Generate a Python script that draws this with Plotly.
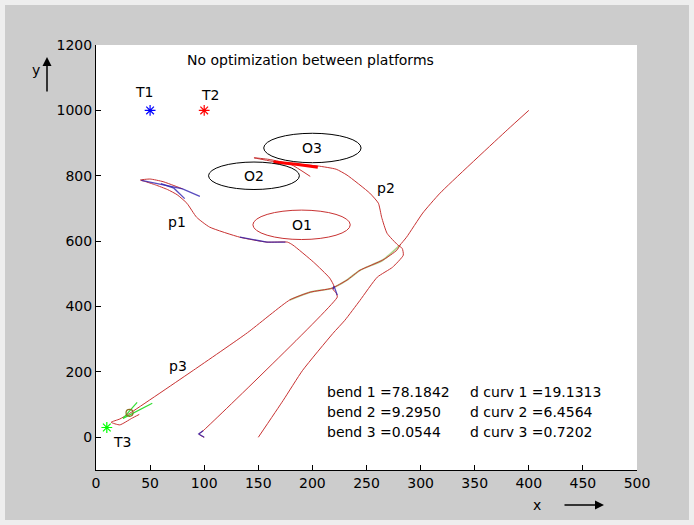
import plotly.graph_objects as go

# ---- data ----
targets_name = ["T1", "T2", "T3"]
targets_x = [50, 100, 10]
targets_y = [1000, 1000, 30]
targets_color = ["#0000ff", "#ff0000", "#00ff00"]
target_label_x = [44, 105, 24]
target_label_y = [1056, 1047, -15]

obst_name = ["O1", "O2", "O3"]
obst_cx = [190, 146, 200]
obst_cy = [650, 800, 885]
obst_r = [45, 42, 45]
obst_color = ["#c83232", "#000000", "#000000"]

# path 1
p1_x = [100, 95, 99, 223, 222, 219, 220, 216, 201, 182, 177, 158, 133, 105, 93, 84, 75, 66, 55, 45, 41, 50, 62, 72, 80]
p1_y = [0, 10, 20, 429, 441, 453, 462, 487, 536, 588, 597, 597, 612, 643, 673, 716, 742, 758, 772, 783, 787, 790, 782, 770, 760]
# blue fragments of path 1
p1b_seg_x = [[42, 55, 68, 80, 96], [60, 72, 82], [133, 158, 175], [219, 220, 223], [100, 95, 99]]
p1b_seg_y = [[786, 778, 768, 760, 737], [776, 762, 730], [612, 597, 597], [453, 462, 435], [0, 10, 20]]

# path 2
p2_x = [150, 173, 191, 219, 230, 244, 260, 274, 284, 283, 279, 269, 264, 261, 253, 232, 222, 205, 185, 165, 146, 160, 180, 198]
p2_y = [0, 113, 205, 318, 358, 419, 490, 520, 557, 578, 588, 624, 673, 716, 747, 802, 820, 830, 836, 843, 855, 850, 835, 798]
p2b_x = [164, 185, 205]
p2b_y = [842, 835, 826]

# path 3
p3_x = [400, 380, 318, 302, 287, 281, 278, 265, 244, 232, 218, 198, 179, 140, 90, 31, 22, 14, 22, 33, 40]
p3_y = [1000, 940, 747, 686, 612, 588, 572, 542, 511, 481, 456, 444, 420, 320, 205, 73, 56, 46, 38, 58, 70]
# green fragments of path 3
p3g_seg_x = [[25, 38], [25, 52]]
p3g_seg_y = [[58, 107], [58, 104]]
p3u_x = [281, 265, 244, 232, 218, 198, 179]
p3u_y = [588, 542, 511, 481, 456, 444, 420]

path_label = ["p1", "p2", "p3"]
path_label_x = [75, 268, 76]
path_label_y = [658, 762, 217]

title_text = "No optimization between platforms"
bend_text = ["bend 1 =78.1842", "bend 2 =9.2950", "bend 3 =0.0544"]
curv_text = ["d curv 1 =19.1313", "d curv 2 =6.4564", "d curv 3 =0.7202"]
stat_y = [138, 77, 15]

x_ticks = [0, 50, 100, 150, 200, 250, 300, 350, 400, 450, 500]
y_ticks = [0, 200, 400, 600, 800, 1000, 1200]

FONT = "DejaVu Sans"
PATH_RED = "#c83232"

fig = go.Figure()

# olive/green underlay of path 3
fig.add_trace(go.Scatter(x=p3u_x, y=p3u_y, mode="lines", line_shape="spline",
                         line=dict(color="#70b030", width=1.8, smoothing=0.6),
                         opacity=0.55, hoverinfo="skip"))

for px, py in ((p1_x, p1_y), (p2_x, p2_y), (p3_x, p3_y)):
    fig.add_trace(go.Scatter(x=px, y=py, mode="lines", line_shape="spline",
                             line=dict(color=PATH_RED, width=1, smoothing=0.5)))

for sx, sy in zip(p1b_seg_x, p1b_seg_y):
    fig.add_trace(go.Scatter(x=sx, y=sy, mode="lines",
                             line=dict(color="#3020b0", width=1.3), opacity=0.8))
for sx, sy in zip(p3g_seg_x, p3g_seg_y):
    fig.add_trace(go.Scatter(x=sx, y=sy, mode="lines",
                             line=dict(color="#33dd33", width=1.2)))

fig.add_trace(go.Scatter(x=p2b_x, y=p2b_y, mode="lines",
                         line=dict(color="#ff0000", width=3)))
fig.add_trace(go.Scatter(x=[p3_x[15]], y=[p3_y[15] + 2], mode="markers",
                         marker=dict(symbol="circle-open", size=7, color="#8a7020",
                                     line=dict(width=1.2))))

# targets
for i in range(3):
    fig.add_trace(go.Scatter(x=[targets_x[i]], y=[targets_y[i]], mode="markers",
                             marker=dict(symbol="asterisk-open", size=9,
                                         color=targets_color[i],
                                         line=dict(color=targets_color[i], width=1.2))))

# obstacles as circles
for i in range(3):
    fig.add_shape(type="circle", xref="x", yref="y",
                  x0=obst_cx[i] - obst_r[i], x1=obst_cx[i] + obst_r[i],
                  y0=obst_cy[i] - obst_r[i], y1=obst_cy[i] + obst_r[i],
                  line=dict(color=obst_color[i], width=1))

ann = []
tfont = dict(family=FONT, size=14, color="black")
for i in range(3):
    ann.append(dict(x=obst_cx[i], y=obst_cy[i], text=obst_name[i], showarrow=False,
                    xref="x", yref="y", font=tfont))
    ann.append(dict(x=target_label_x[i], y=target_label_y[i], text=targets_name[i],
                    showarrow=False, xref="x", yref="y", font=tfont))
    ann.append(dict(x=path_label_x[i], y=path_label_y[i], text=path_label[i],
                    showarrow=False, xref="x", yref="y", font=tfont))
    ann.append(dict(x=212, y=stat_y[i], text=bend_text[i], showarrow=False,
                    xref="x", yref="y", xanchor="left", font=tfont))
    ann.append(dict(x=344, y=stat_y[i], text=curv_text[i], showarrow=False,
                    xref="x", yref="y", xanchor="left", font=tfont))
ann.append(dict(x=82, y=1154, text=title_text, showarrow=False, xref="x", yref="y",
                xanchor="left", font=tfont))

# axis labels with arrows
ann.append(dict(x=(36 - 96) / 541, y=(470 - 70) / 425, xref="paper", yref="paper",
                xanchor="center", yanchor="middle",
                text="y", showarrow=False, font=tfont))
ann.append(dict(x=(537 - 96) / 541, y=(470 - 505) / 425, xref="paper", yref="paper",
                xanchor="center", yanchor="middle",
                text="x", showarrow=False, font=tfont))
ann.append(dict(x=(47 - 96) / 541, y=(470 - 57) / 425, xref="paper", yref="paper",
                text="", showarrow=True, ax=0, ay=36, arrowhead=2, arrowsize=1.2,
                arrowwidth=1.5, arrowcolor="black"))
ann.append(dict(x=(604 - 96) / 541, y=(470 - 505) / 425, xref="paper", yref="paper",
                text="", showarrow=True, ax=-41, ay=0, arrowhead=2, arrowsize=1.2,
                arrowwidth=1.5, arrowcolor="black"))

# light frame around the figure
fig.add_shape(type="rect", xref="paper", yref="paper",
              x0=-96 / 541, x1=(694 - 96) / 541, y0=(470 - 525) / 425, y1=470 / 425,
              line=dict(color="#eeeeee", width=10), fillcolor="rgba(0,0,0,0)", layer="below")

fig.update_layout(
    width=694, height=525,
    margin=dict(l=96, r=57, t=45, b=55),
    paper_bgcolor="#cccccc", plot_bgcolor="white",
    showlegend=False,
    annotations=ann,
    font=dict(family=FONT, size=14, color="black"),
)
fig.update_xaxes(range=[0, 500], tickvals=x_ticks, ticks="inside", ticklen=5,
                 showline=True, linecolor="black", linewidth=1, showgrid=False,
                 zeroline=False, mirror=False, tickcolor="black",
                 tickfont=dict(family=FONT, size=14, color="black"))
fig.update_yaxes(range=[-100, 1200], tickvals=y_ticks, ticks="inside", ticklen=5,
                 showline=True, linecolor="black", linewidth=1, showgrid=False,
                 zeroline=False, mirror=False, tickcolor="black",
                 tickfont=dict(family=FONT, size=14, color="black"))

fig.write_html("out.html", config={"displayModeBar": False},
               post_script="document.body.style.margin='0px';")
